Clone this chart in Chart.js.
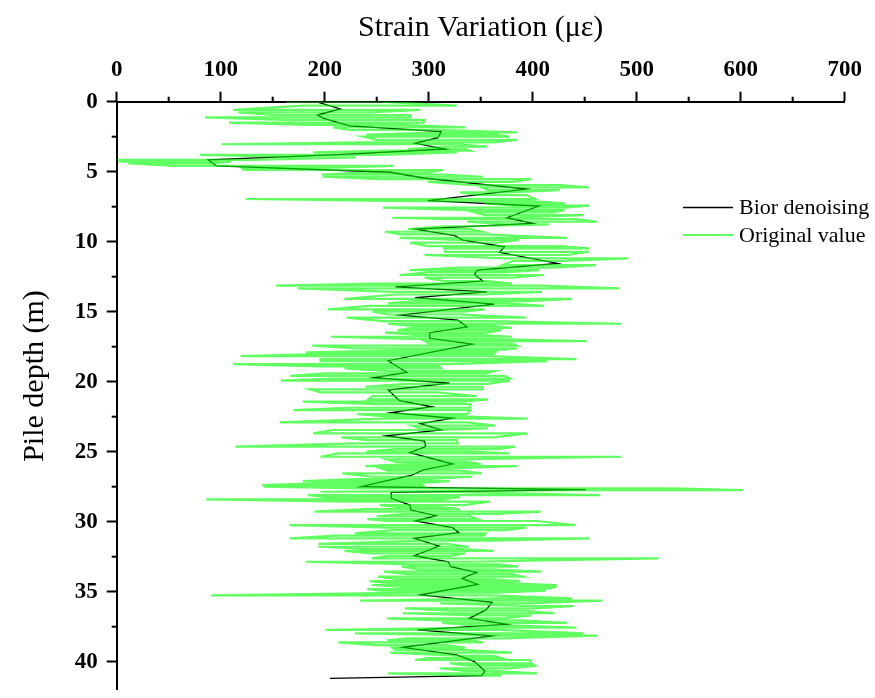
<!DOCTYPE html>
<html>
<head>
<meta charset="utf-8">
<script src="https://cdn.jsdelivr.net/npm/chart.js@4.4.1/dist/chart.umd.min.js"></script>
<style>
    body { margin: 0; background: #fff; }
    #wrap { width: 875px; height: 698px; }
</style>
</head>
<body>
<div id="wrap"><canvas id="chart" width="875" height="698"></canvas></div>
<script>
var xTicks = [0, 100, 200, 300, 400, 500, 600, 700];
var yTicks = [0, 5, 10, 15, 20, 25, 30, 35, 40];
var xMinor = [50, 150, 250, 350, 450, 550, 650];
var yMinor = [2.5, 7.5, 12.5, 17.5, 22.5, 27.5, 32.5, 37.5];

// Bior denoising (depth m, strain)
var biorDepth = [0, 0.05, 0.52, 0.95, 1.19, 1.73, 2.14, 2.57, 2.97, 3.38, 3.76, 4.16, 4.59, 5.04, 5.45,
    6.24, 7.07, 7.45, 8.29, 8.69, 9.1, 9.57, 9.88, 10.36, 10.76, 11.55, 12.03, 12.34, 12.81, 13.22,
    13.58, 14.0, 14.46, 15.24, 15.6, 16.08, 16.5, 16.9, 17.31, 18.5, 19.33, 19.71, 20.1, 20.6, 21.36,
    21.79, 22.21, 22.61, 23.0, 23.45, 23.86, 24.24, 24.64, 25.07, 25.88, 26.3, 26.7, 27.1, 27.5, 27.71,
    27.9, 28.33, 28.81, 29.17, 29.57, 29.95, 30.43, 30.78, 31.19, 31.74, 32.43, 32.86, 33.21, 33.62, 34.05,
    34.48, 35.23, 35.76, 36.3, 36.9, 37.33, 37.73, 38.16, 38.97, 39.52, 39.99, 40.66, 40.99, 41.19];
var biorStrain = [140, 194, 215, 193, 199, 224, 312, 309, 287, 316, 218, 88, 96, 263, 295,
    394, 299, 406, 375, 400, 287, 325, 333, 373, 368, 424, 347, 344, 352, 268,
    356, 287, 363, 273, 328, 337, 301, 301, 342, 261, 279, 247, 320, 261, 272,
    303, 264, 323, 292, 312, 259, 296, 297, 282, 323, 295, 283, 258, 235, 451,
    264, 264, 282, 283, 307, 287, 323, 329, 286, 310, 286, 319, 321, 346, 332,
    347, 292, 361, 355, 339, 375, 289, 361, 275, 327, 344, 354, 351, 205];

// Original value: each stroke = two consecutive samples (low / high end) at a depth
var origDepth = [0, 0.28, 0.59, 0.76, 0.95, 1.12, 1.3, 1.5, 1.66, 1.83, 2.02, 2.19, 2.35, 2.5, 2.73,
    2.9, 3.04, 3.21, 3.38, 3.5, 3.62, 3.8, 3.97, 4.16, 4.28, 4.4, 4.59, 4.72, 4.88, 5.05,
    5.2, 5.36, 5.53, 5.72, 5.95, 6.12, 6.31, 6.48, 6.67, 6.95, 7.1, 7.26, 7.43, 7.57, 7.74,
    7.9, 8.1, 8.29, 8.38, 8.57, 8.76, 8.9, 9.1, 9.29, 9.48, 9.72, 9.88, 10.07, 10.31, 10.48,
    10.72, 10.95, 11.19, 11.38, 11.67, 11.85, 12.03, 12.19, 12.38, 12.57, 12.81, 13.0, 13.14, 13.33, 13.58,
    13.77, 14.08, 14.24, 14.41, 14.58, 14.84, 15.0, 15.2, 15.43, 15.67, 15.86, 16.0, 16.15, 16.32, 16.5,
    16.65, 16.79, 16.95, 17.1, 17.27, 17.43, 17.62, 17.78, 17.91, 18.05, 18.17, 18.39, 18.53, 18.74, 18.9,
    19.05, 19.24, 19.4, 19.58, 19.77, 19.93, 20.15, 20.36, 20.55, 20.76, 21.03, 21.26, 21.43, 21.6, 21.86,
    22.03, 22.31, 22.48, 22.64, 22.91, 23.14, 23.34, 23.45, 23.69, 23.98, 24.17, 24.4, 24.64, 24.81, 25.0,
    25.12, 25.36, 25.55, 25.72, 25.88, 26.03, 26.19, 26.35, 26.55, 26.79, 26.95, 27.1, 27.25, 27.38, 27.5,
    27.62, 27.74, 27.86, 28.1, 28.25, 28.4, 28.57, 28.81, 28.95, 29.1, 29.28, 29.45, 29.62, 29.81, 29.95,
    30.24, 30.43, 30.6, 30.83, 31.0, 31.19, 31.35, 31.59, 31.79, 31.95, 32.09, 32.26, 32.45, 32.62, 32.86,
    33.05, 33.21, 33.4, 33.57, 33.75, 33.93, 34.1, 34.24, 34.38, 34.52, 34.66, 34.81, 34.92, 35.07, 35.26,
    35.47, 35.64, 35.83, 36.02, 36.19, 36.36, 36.54, 36.7, 36.9, 37.05, 37.23, 37.4, 37.57, 37.73, 37.97,
    38.14, 38.33, 38.48, 38.62, 38.81, 39.0, 39.15, 39.35, 39.59, 39.75, 39.88, 40.12, 40.28, 40.47, 40.65,
    40.83, 41.0];
var origLow = [163, 180, 112, 117, 151, 85, 160, 108, 183, 208, 224, 314, 240, 237, 250,
    237, 101, 320, 280, 260, 189, 80, 189, 2, 3, 11, 56, 120, 122, 240,
    197, 198, 253, 299, 340, 351, 357, 330, 351, 124, 280, 354, 385, 256, 337,
    344, 354, 265, 310, 337, 375, 315, 280, 258, 273, 272, 330, 282, 299, 315,
    316, 296, 373, 381, 371, 330, 282, 299, 272, 296, 315, 250, 153, 174, 267,
    268, 219, 287, 261, 243, 203, 246, 261, 221, 256, 261, 280, 285, 270, 258,
    290, 206, 280, 296, 300, 188, 229, 270, 182, 183, 119, 196, 196, 112, 195,
    219, 263, 200, 167, 207, 158, 277, 239, 186, 196, 246, 242, 179, 248, 222,
    170, 231, 260, 255, 157, 284, 292, 208, 189, 216, 241, 229, 114, 268, 240,
    213, 196, 260, 268, 280, 239, 254, 260, 217, 246, 230, 179, 200, 140, 141,
    236, 453, 196, 184, 200, 86, 225, 253, 268, 240, 190, 276, 250, 241, 260,
    166, 260, 266, 229, 210, 166, 296, 194, 194, 240, 219, 245, 260, 245, 182,
    286, 274, 290, 257, 280, 251, 270, 243, 260, 245, 275, 241, 253, 292, 91,
    371, 234, 311, 392, 277, 320, 275, 344, 260, 313, 313, 344, 354, 201, 229,
    368, 280, 260, 213, 249, 265, 268, 263, 330, 300, 287, 320, 339, 311, 334,
    261, 351];
var origHigh = [253, 327, 292, 244, 282, 282, 296, 295, 276, 335, 314, 385, 365, 378, 385,
    362, 327, 356, 335, 340, 327, 255, 230, 131, 110, 93, 266, 200, 314, 300,
    314, 352, 399, 380, 426, 454, 426, 375, 394, 402, 399, 431, 455, 430, 431,
    419, 449, 378, 440, 462, 416, 330, 340, 351, 352, 433, 387, 366, 425, 455,
    454, 433, 492, 428, 461, 420, 406, 371, 411, 380, 357, 380, 409, 483, 409,
    352, 438, 394, 375, 411, 354, 334, 332, 394, 359, 485, 360, 380, 370, 356,
    350, 380, 360, 452, 380, 385, 385, 360, 364, 362, 356, 442, 414, 321, 310,
    312, 363, 355, 373, 378, 378, 357, 351, 352, 308, 346, 357, 332, 340, 340,
    340, 337, 330, 395, 337, 364, 357, 311, 395, 362, 327, 328, 383, 366, 340,
    378, 485, 330, 338, 350, 385, 316, 330, 351, 342, 300, 320, 290, 294, 296,
    533, 602, 311, 465, 330, 313, 359, 333, 308, 330, 408, 365, 340, 347, 404,
    441, 394, 374, 355, 353, 455, 362, 317, 339, 330, 362, 335, 320, 521, 339,
    368, 386, 360, 408, 380, 390, 360, 388, 370, 423, 423, 412, 412, 364, 358,
    438, 467, 394, 440, 402, 392, 421, 399, 371, 388, 433, 375, 442, 368, 449,
    462, 371, 340, 352, 316, 335, 332, 380, 363, 370, 397, 399, 404, 378, 359,
    404, 370];

var FONT = "'Liberation Serif', 'Times New Roman', serif";
var GREEN = 'rgba(0,255,0,0.62)';

var biorPoints = biorDepth.map(function (d, i) { return { x: biorStrain[i], y: d }; });
var origPoints = [];
origDepth.forEach(function (d, i) {
    var a = origLow[i], b = origHigh[i];
    if (i % 2) { var t = a; a = b; b = t; }
    origPoints.push({ x: a, y: d }, { x: b, y: d });
});

function noPad(s) {
    s.paddingTop = 0; s.paddingBottom = 0; s.paddingLeft = 0; s.paddingRight = 0;
}

var decor = {
    id: 'decor',
    afterDraw: function (chart) {
        var ctx = chart.ctx, sx = chart.scales.x, sy = chart.scales.y, a = chart.chartArea;
        ctx.save();
        ctx.strokeStyle = '#000';
        ctx.lineWidth = 2;
        xMinor.forEach(function (v) {
            var px = sx.getPixelForValue(v);
            ctx.beginPath(); ctx.moveTo(px, a.top); ctx.lineTo(px, a.top - 5); ctx.stroke();
        });
        yMinor.forEach(function (v) {
            var py = sy.getPixelForValue(v);
            ctx.beginPath(); ctx.moveTo(a.left, py); ctx.lineTo(a.left - 5, py); ctx.stroke();
        });

        ctx.fillStyle = '#000';
        ctx.font = '30px ' + FONT;
        ctx.textAlign = 'center';
        ctx.textBaseline = 'alphabetic';
        ctx.fillText('Strain Variation (με)', (a.left + a.right) / 2, 36);
        ctx.save();
        ctx.translate(43, 376);
        ctx.rotate(-Math.PI / 2);
        ctx.fillText('Pile depth (m)', 0, 0);
        ctx.restore();

        // legend
        ctx.font = '22px ' + FONT;
        ctx.textAlign = 'left';
        ctx.lineWidth = 1.3;
        ctx.strokeStyle = '#000';
        ctx.beginPath(); ctx.moveTo(683, 207.5); ctx.lineTo(733, 207.5); ctx.stroke();
        ctx.fillText('Bior denoising', 739, 213.5);
        ctx.lineWidth = 2;
        ctx.strokeStyle = GREEN;
        ctx.beginPath(); ctx.moveTo(683, 235); ctx.lineTo(733, 235); ctx.stroke();
        ctx.fillText('Original value', 739, 241.5);
        ctx.restore();
    }
};

new Chart(document.getElementById('chart'), {
    type: 'scatter',
    data: {
        datasets: [{
            label: 'Original value',
            data: origPoints,
            showLine: true,
            borderColor: GREEN,
            borderWidth: 2.2,
            pointRadius: 0,
            order: 1
        }, {
            label: 'Bior denoising',
            data: biorPoints,
            showLine: true,
            borderColor: '#000',
            borderWidth: 1.3,
            pointRadius: 0,
            order: 2
        }]
    },
    options: {
        responsive: false,
        animation: false,
        layout: { padding: { left: 0, top: 0, right: 30.3, bottom: 8.3 } },
        plugins: { legend: { display: false }, tooltip: { enabled: false } },
        scales: {
            x: {
                type: 'linear',
                position: 'top',
                min: 0, max: 700,
                afterBuildTicks: function (s) { s.ticks = xTicks.map(function (v) { return { value: v }; }); },
                afterFit: function (s) { s.height = 101.7; noPad(s); },
                border: { display: true, color: '#000', width: 2 },
                grid: { drawOnChartArea: false, drawTicks: true, tickLength: 10, tickColor: '#000', tickWidth: 2 },
                ticks: { color: '#000', padding: 8, font: { family: FONT, size: 23, weight: 'bold' } }
            },
            y: {
                type: 'linear',
                reverse: true,
                min: 0, max: 42,
                afterBuildTicks: function (s) { s.ticks = yTicks.map(function (v) { return { value: v }; }); },
                afterFit: function (s) { s.width = 116.7; noPad(s); },
                border: { display: true, color: '#000', width: 2 },
                grid: { drawOnChartArea: false, drawTicks: true, tickLength: 10, tickColor: '#000', tickWidth: 2 },
                ticks: { color: '#000', padding: 9, font: { family: FONT, size: 23, weight: 'bold' } }
            }
        }
    },
    plugins: [decor]
});
</script>
</body>
</html>
